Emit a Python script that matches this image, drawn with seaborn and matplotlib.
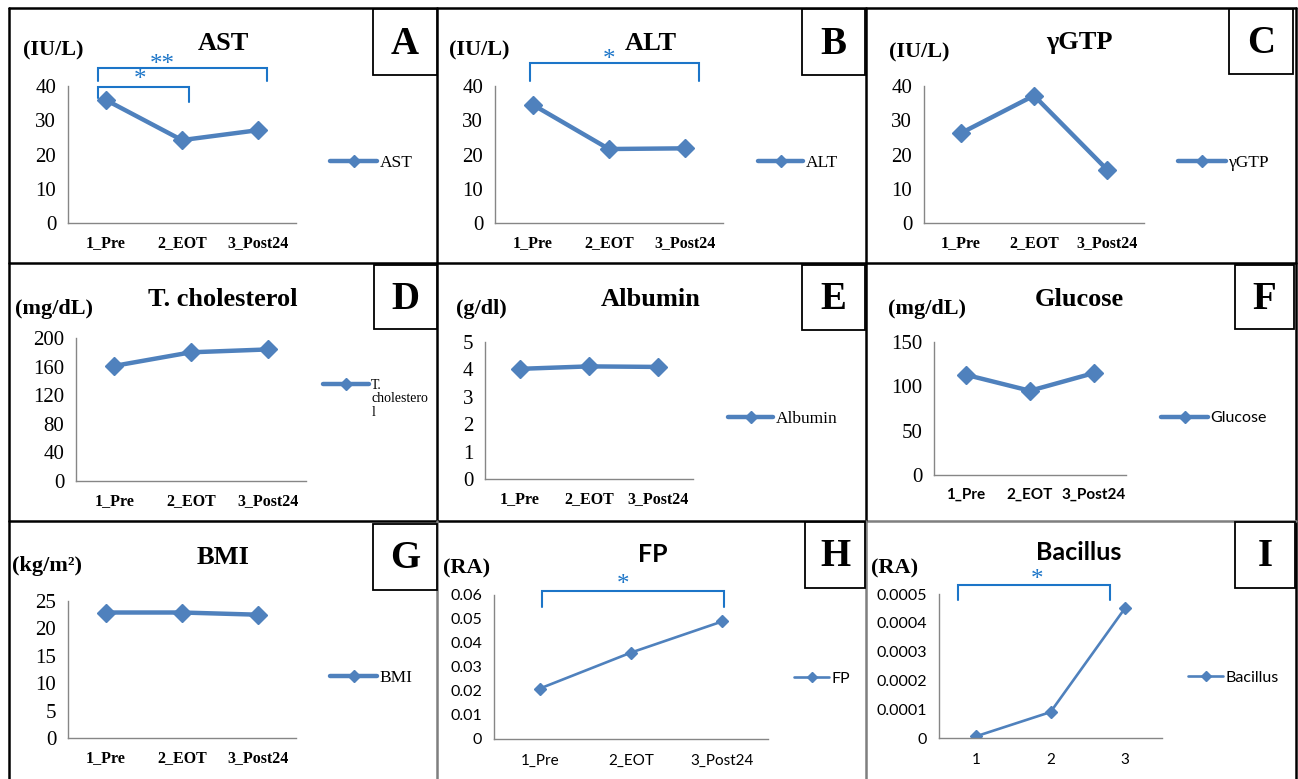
import matplotlib
matplotlib.use("Agg")
import matplotlib.pyplot as plt
import seaborn as sns
import pandas as pd
from matplotlib.patches import Rectangle
from matplotlib.lines import Line2D

# ---------------- data ----------------
categories = ["1_Pre", "2_EOT", "3_Post24"]
categories_num = ["1", "2", "3"]

ast = [35.9, 24.2, 27.1]
alt = [34.5, 21.6, 21.8]
ggtp = [26.2, 37.2, 15.5]
tchol = [161, 180, 184]
albumin = [4.02, 4.11, 4.09]
glucose = [113, 95, 115]
bmi = [22.9, 22.9, 22.5]
fp = [0.021, 0.036, 0.049]
bacillus = [0.000006, 0.00009, 0.00045]

ticks_iul = [0, 10, 20, 30, 40]
ticks_chol = [0, 40, 80, 120, 160, 200]
ticks_alb = [0, 1, 2, 3, 4, 5]
ticks_glu = [0, 50, 100, 150]
ticks_bmi = [0, 5, 10, 15, 20, 25]
ticks_fp = [0, 0.01, 0.02, 0.03, 0.04, 0.05, 0.06]
ticklabels_fp = ["0", "0.01", "0.02", "0.03", "0.04", "0.05", "0.06"]
ticks_bac = [0, 0.0001, 0.0002, 0.0003, 0.0004, 0.0005]
ticklabels_bac = ["0", "0.0001", "0.0002", "0.0003", "0.0004", "0.0005"]

# ---------------- style ----------------
W, H = 1298, 779
sns.set_style("white")
plt.rcParams["font.family"] = ["Liberation Serif", "DejaVu Serif"]
plt.rcParams["text.color"] = "black"
plt.rcParams["xtick.labelcolor"] = "black"
plt.rcParams["ytick.labelcolor"] = "black"

SERIF = "Liberation Serif"
SANS = "Lato"
BLUE = "#4F81BD"
AXC = "#868686"
SIGC = "#1C75C8"
PT_PER_PX = 0.72

fig = plt.figure(figsize=(W / 100, H / 100), dpi=100)


def rect(x0, y0, x1, y1):
    return [x0 / W, 1 - y1 / H, (x1 - x0) / W, (y1 - y0) / H]


def fxy(x, y):
    return x / W, 1 - y / H


panels = [
    dict(vals=ast, cats=categories, ticks=ticks_iul, tl=None, name="AST", title="AST", unit="(IU/L)",
         letter="A", ax=(68, 86, 296, 223), tpos=(223, 43), upos=(23, 50), lpos=(330, 163), hpx=47,
         box=(373, 9, 437, 75), kind="serif"),
    dict(vals=alt, cats=categories, ticks=ticks_iul, tl=None, name="ALT", title="ALT", unit="(IU/L)",
         letter="B", ax=(495, 86, 723, 223), tpos=(651, 43), upos=(449, 50), lpos=(758, 163), hpx=45,
         box=(802, 9, 865, 75), kind="serif"),
    dict(vals=ggtp, cats=categories, ticks=ticks_iul, tl=None, name="γGTP", title="γGTP", unit="(IU/L)",
         letter="C", ax=(924, 86, 1144, 223), tpos=(1079, 43), upos=(889, 52), lpos=(1178, 163), hpx=48,
         box=(1229, 9, 1293, 74), kind="serif"),
    dict(vals=tchol, cats=categories, ticks=ticks_chol, tl=None, name="T.", title="T. cholesterol",
         unit="(mg/dL)", letter="D", ax=(76, 338, 306, 481), tpos=(223, 299), upos=(15, 309),
         lpos=(323, 385), hpx=46, box=(374, 265, 437, 329), kind="serif", legfs=10),
    dict(vals=albumin, cats=categories, ticks=ticks_alb, tl=None, name="Albumin", title="Albumin",
         unit="(g/dl)", letter="E", ax=(485, 342, 693, 479), tpos=(651, 299), upos=(456, 309),
         lpos=(728, 419), hpx=45, box=(802, 265, 865, 330), kind="serif"),
    dict(vals=glucose, cats=categories, ticks=ticks_glu, tl=None, name="Glucose", title="Glucose",
         unit="(mg/dL)", letter="F", ax=(934, 342, 1126, 475), tpos=(1079, 299), upos=(888, 309),
         lpos=(1161, 418), hpx=47, box=(1235, 265, 1294, 329), kind="mixed"),
    dict(vals=bmi, cats=categories, ticks=ticks_bmi, tl=None, name="BMI", title="BMI",
         unit="(kg/m²)", letter="G", ax=(68, 601, 296, 738), tpos=(223, 558), upos=(12, 566),
         lpos=(330, 678), hpx=47, box=(373, 524, 437, 590), kind="serif"),
    dict(vals=fp, cats=categories, ticks=ticks_fp, tl=ticklabels_fp, name="FP", title="FP",
         unit="(RA)", letter="H", ax=(494, 595, 768, 739), tpos=(653, 555), upos=(443, 568),
         lpos=(794, 679), hpx=35, box=(805, 522, 865, 588), kind="sans"),
    dict(vals=bacillus, cats=categories_num, ticks=ticks_bac, tl=ticklabels_bac, name="Bacillus",
         title="Bacillus", unit="(RA)", letter="I", ax=(939, 594, 1162, 738), tpos=(1079, 553),
         upos=(871, 568), lpos=(1188, 678), hpx=35, box=(1235, 522, 1295, 588), kind="sans"),
]

for p in panels:
    ax = fig.add_axes(rect(*p["ax"]))
    df = pd.DataFrame({"time": p["cats"], "value": p["vals"]})
    thin = p["kind"] == "sans"
    sns.lineplot(data=df, x="time", y="value", ax=ax, color=BLUE, marker="D",
                 linewidth=1.9 if thin else 3.2, markersize=6.5 if thin else 9.5,
                 markeredgecolor=BLUE, markeredgewidth=1, label=p["name"], sort=False)
    ax.set_xlim(-0.5, 2.5)
    ax.set_ylim(p["ticks"][0], p["ticks"][-1])
    ax.set_xlabel("")
    ax.set_ylabel("")
    for s in ["top", "right"]:
        ax.spines[s].set_visible(False)
    for s in ["left", "bottom"]:
        ax.spines[s].set_color(AXC)
        ax.spines[s].set_linewidth(1.0)
    ax.set_yticks(p["ticks"])
    if p["tl"] is not None:
        ax.set_yticklabels(p["tl"])
    ax.set_xticks([0, 1, 2])
    ax.set_xticklabels(p["cats"])
    ax.set_xticks([-0.5, 0.5, 1.5, 2.5], minor=True)
    ax.tick_params(axis="x", which="major", length=0, pad=9)
    ax.tick_params(axis="x", which="minor", length=4.5, width=1, color=AXC, direction="out")
    ax.tick_params(axis="y", which="major", length=4.5, width=1, color=AXC, direction="out", pad=4)
    ax.set_facecolor("none")

    if p["kind"] == "serif":
        for t in ax.get_yticklabels():
            t.set_fontfamily(SERIF); t.set_fontsize(15)
        for t in ax.get_xticklabels():
            t.set_fontfamily(SERIF); t.set_fontsize(11.5); t.set_fontweight("bold")
        tfam, legfam = SERIF, SERIF
    elif p["kind"] == "mixed":
        for t in ax.get_yticklabels():
            t.set_fontfamily(SERIF); t.set_fontsize(15)
        for t in ax.get_xticklabels():
            t.set_fontfamily(SANS); t.set_fontsize(11); t.set_fontweight("bold")
        tfam, legfam = SERIF, SANS
    else:
        for t in ax.get_yticklabels():
            t.set_fontfamily(SANS); t.set_fontsize(11.5)
        for t in ax.get_xticklabels():
            t.set_fontfamily(SANS); t.set_fontsize(11)
        ax.tick_params(axis="x", which="major", pad=11)
        tfam, legfam = SANS, SANS

    # legend
    legfs = p.get("legfs", 12.5 if legfam == SERIF else 11.5)
    handles, labels = ax.get_legend_handles_labels()
    hl = p["hpx"] * PT_PER_PX / legfs
    ax.legend(handles, labels, loc="center left",
              bbox_to_anchor=fxy(*p["lpos"]), bbox_transform=fig.transFigure,
              frameon=False, borderpad=0, borderaxespad=0, handletextpad=0.15,
              handlelength=hl, markerscale=0.75 if thin else 0.6,
              prop=dict(family=legfam, size=legfs))
    if p["letter"] == "D":
        x, y = p["lpos"]
        fig.text(*fxy(x + p["hpx"] + 3, y + 7), "cholestero\nl", family=SERIF, size=legfs,
                 ha="left", va="top", linespacing=1.05)

    # title
    fig.text(*fxy(*p["tpos"]), p["title"], family=tfam, weight="bold",
             size=(18 if tfam == SANS else 19), ha="center", va="center")
    # unit
    fig.text(*fxy(*p["upos"]), p["unit"], family=SERIF, weight="bold", size=16,
             ha="left", va="center")
    # letter box
    bx0, by0, bx1, by1 = p["box"]
    fig.patches.append(Rectangle(fxy(bx0, by1), (bx1 - bx0) / W, (by1 - by0) / H,
                                 transform=fig.transFigure, fill=True, facecolor="white",
                                 edgecolor="black", linewidth=1.3, zorder=5))
    fig.text(*fxy((bx0 + bx1) / 2, (by0 + by1) / 2 + 2), p["letter"], family=SERIF,
             weight="bold", size=28, ha="center", va="center", zorder=6)

# panel frame lines (pixel coordinates)
frame_lines = [
    ((9, 8), (1296, 8), "black"),
    ((9, 8), (9, 779), "black"),
    ((1296, 8), (1296, 779), "black"),
    ((9, 263), (1296, 263), "black"),
    ((9, 521), (866, 521), "black"),
    ((866, 521), (1296, 521), "#7f7f7f"),
    ((437, 8), (437, 521), "black"),
    ((437, 521), (437, 779), "#7f7f7f"),
    ((866, 8), (866, 521), "black"),
    ((866, 521), (866, 779), "#7f7f7f"),
]
for (x0, y0), (x1, y1), c in frame_lines:
    fig.add_artist(Line2D([x0 / W, x1 / W], [1 - y0 / H, 1 - y1 / H], color=c,
                          linewidth=1.8, transform=fig.transFigure, zorder=4))

# significance brackets: x0, x1, top, bottom-left, bottom-right, label, label x, label y
brackets = [
    (98, 267, 68, 81, 81, "**", 162, 60),
    (98, 189, 87, 98, 102, "*", 140, 75),
    (530, 699, 63, 81, 81, "*", 609, 55),
    (542, 724, 591, 607, 607, "*", 623, 580),
    (958, 1110, 585, 600, 600, "*", 1037, 575),
]
for x0, x1, yt, yb0, yb1, lab, lx, ly in brackets:
    xs = [x0 / W, x0 / W, x1 / W, x1 / W]
    ys = [1 - yb0 / H, 1 - yt / H, 1 - yt / H, 1 - yb1 / H]
    fig.add_artist(Line2D(xs, ys, color=SIGC, linewidth=1.5, transform=fig.transFigure,
                          solid_joinstyle="miter", zorder=4))
    fig.text(*fxy(lx, ly + 11), lab, family=SERIF, size=18, color=SIGC,
             ha="center", va="baseline")

fig.savefig("out.png", dpi=100, facecolor="white")
